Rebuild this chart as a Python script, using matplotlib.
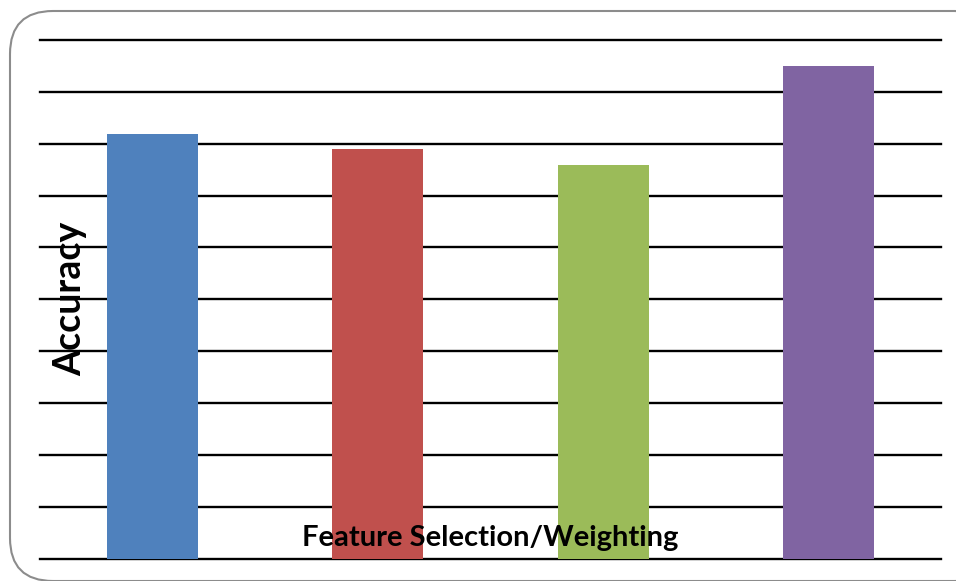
import matplotlib.pyplot as plt
from matplotlib.patches import FancyBboxPatch

# accuracy per feature selection / weighting method
methods = ["A", "B", "C", "D"]
accuracy = [81.9, 79.0, 75.9, 95.0]
colors = ["#4F81BD", "#C0504D", "#9BBB59", "#8064A2"]
grid_ticks = [0, 10, 20, 30, 40, 50, 60, 70, 80, 90, 100]

W, H = 956, 581
fig = plt.figure(figsize=(W / 100, H / 100), dpi=100)

# rounded chart-area border
frame = FancyBboxPatch((10 / W, 0.0), (W + 32) / W, (H - 11) / H,
                       boxstyle="round,pad=0,rounding_size=0.045",
                       transform=fig.transFigure, facecolor="none",
                       edgecolor="#8c8c8c", linewidth=1.5, zorder=0,
                       mutation_aspect=W / H)
fig.patches.append(frame)

ax = fig.add_axes([40 / W, (H - 558.5) / H, 901 / W, 518.5 / H])
ax.patch.set_alpha(0)

x = range(len(methods))
ax.bar(x, accuracy, width=0.405, color=colors, zorder=2)
ax.set_xlim(-0.5, len(methods) - 0.5)
ax.set_ylim(0, 100)

for t in grid_ticks:
    ax.axhline(t, color="black", linewidth=1.7, zorder=1, clip_on=False)

ax.set_xticks([])
ax.set_yticks([])
for s in ax.spines.values():
    s.set_visible(False)

ax.text(0.5, 0.04, "Feature Selection/Weighting", transform=ax.transAxes,
        ha="center", va="center", fontsize=21, fontweight="bold",
        family="Lato", zorder=5)
fig.text(70 / W, 1 - 299 / H, "Accuracy", rotation=90, ha="center",
         va="center", fontsize=27, fontweight="bold", family="Lato",
         zorder=5)

fig.savefig("out.png", dpi=100)
